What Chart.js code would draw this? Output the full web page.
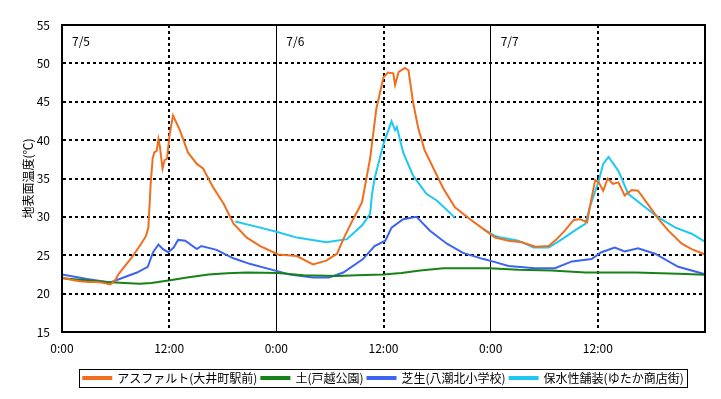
<!DOCTYPE html>
<html lang="ja">
<head>
  <meta charset="UTF-8" />
  <title>地表面温度</title>
  <script src="https://cdn.jsdelivr.net/npm/chart.js"></script>
  <style>
    html, body { margin: 0; padding: 0; background: #fff; }
    #wrap { width: 721px; height: 399px; }
  </style>
</head>
<body>
  <div id="wrap"><canvas id="tempChart" width="721" height="399"></canvas></div>
  <script>
    // hours since 7/5 0:00
    const xTicks = [0, 12, 24, 36, 48, 60, 72];
    const xTickLabels = ["0:00", "12:00", "0:00", "12:00", "0:00", "12:00", ""];
    const dayLabels = ["7/5", "7/6", "7/7"];
    const seriesNames = ["アスファルト(大井町駅前)", "土(戸越公園)", "芝生(八潮北小学校)", "保水性舗装(ゆたか商店街)"];

    const asphaltHours = [0, 1, 2, 3, 4, 4.6, 5.4, 6, 6.3, 6.9, 7.8, 8.7, 9.4, 9.67, 9.93, 10.15, 10.33, 10.6, 10.8, 10.97, 11.26, 11.5, 11.76, 12.06, 12.43, 13.2, 14.1, 15.1, 15.8, 16.9, 18.1, 19.2, 20.7, 22.2, 24.2, 26.3, 28.1, 29.6, 30.8, 31.5, 32.6, 33.6, 34.5, 35.2, 36.0, 36.5, 37.1, 37.3, 37.7, 38.4, 38.8, 39.3, 39.9, 40.6, 41.6, 42.7, 44.0, 45.7, 47.2, 48.5, 50.0, 51.5, 53.0, 54.5, 55.4, 56.3, 57.3, 58.0, 58.8, 59.1, 59.7, 60.1, 60.6, 61.1, 61.7, 62.3, 63.0, 63.8, 64.5, 65.7, 66.8, 67.9, 69.4, 70.5, 71.8, 72];
    const asphaltTemps = [22.1, 21.8, 21.6, 21.5, 21.5, 21.4, 21.2, 21.8, 22.5, 23.4, 24.7, 26.2, 27.5, 28.6, 34.3, 37.6, 38.4, 38.6, 40.1, 39.1, 36.3, 37.4, 37.6, 40.8, 43.2, 41.3, 38.4, 36.9, 36.3, 33.9, 31.7, 29.1, 27.3, 26.2, 25.1, 24.9, 23.8, 24.3, 25.2, 27.1, 29.7, 31.9, 37.6, 44.1, 48.2, 48.8, 48.7, 47.2, 48.9, 49.4, 49.1, 45.0, 41.5, 38.7, 36.3, 33.7, 31.25, 29.7, 28.4, 27.3, 26.9, 26.7, 26.1, 26.2, 27.1, 28.2, 29.6, 29.7, 29.3, 31.25, 34.8, 34.5, 33.4, 35.0, 34.3, 34.5, 32.8, 33.5, 33.4, 31.5, 29.7, 28.2, 26.5, 25.8, 25.2, 25.1];

    const soilHours = [0, 2, 4, 5, 7, 8.7, 10, 12.1, 14, 16.4, 18.5, 20.7, 24.2, 27, 30.8, 33, 36, 38, 40.1, 42.7, 45, 47.9, 51.1, 54.8, 58.6, 64.2, 69, 72];
    const soilTemps = [22.0, 21.8, 21.6, 21.5, 21.4, 21.3, 21.4, 21.75, 22.1, 22.5, 22.65, 22.75, 22.7, 22.4, 22.3, 22.4, 22.5, 22.7, 23.0, 23.3, 23.3, 23.3, 23.1, 23.0, 22.75, 22.75, 22.6, 22.45];

    const turfHours = [0, 2.8, 5.4, 6.9, 8.4, 9.6, 10.2, 10.8, 11.3, 11.9, 12.5, 13.0, 13.8, 15.1, 15.6, 17.3, 19.2, 21.1, 24.2, 25.5, 28.1, 29.9, 31.5, 33.7, 35.0, 36.2, 36.9, 38.2, 39.7, 41.2, 43.1, 44.9, 47.2, 48.5, 50.0, 53.0, 55.2, 57.1, 59.3, 60.4, 61.9, 63.0, 64.5, 66.4, 69.0, 71.8, 72];
    const turfTemps = [22.5, 21.9, 21.45, 22.1, 22.75, 23.5, 25.4, 26.4, 25.8, 25.4, 26.0, 27.0, 26.9, 25.8, 26.2, 25.7, 24.6, 23.85, 22.9, 22.5, 22.1, 22.1, 22.75, 24.5, 26.2, 26.9, 28.6, 29.7, 30.0, 28.2, 26.5, 25.3, 24.5, 24.1, 23.6, 23.3, 23.3, 24.2, 24.5, 25.4, 26.0, 25.5, 25.9, 25.2, 23.5, 22.6, 22.5];

    const pavingHours = [19.4, 22.2, 24.2, 26.3, 29.6, 31.9, 33.6, 34.5, 34.7, 35.0, 36.0, 36.9, 37.3, 37.5, 38.2, 39.3, 40.8, 42.0, 44.0, 45.5, 47.2, 48.5, 49.2, 51.1, 52.8, 54.5, 56.0, 57.4, 58.6, 59.1, 60.1, 60.6, 61.2, 62.3, 63.4, 65.3, 66.8, 68.7, 70.5, 71.8, 72];
    const pavingTemps = [29.4, 28.6, 28.0, 27.3, 26.7, 27.1, 28.9, 30.4, 32.8, 35.0, 39.5, 42.45, 41.3, 41.7, 38.4, 35.4, 33.0, 32.1, 29.9, null, 28.4, 27.5, 27.3, 26.9, 26.0, 26.0, 27.1, 28.2, 29.1, 31.25, 34.7, 36.9, 37.8, 36.0, 33.0, 31.25, 29.9, 28.6, 27.8, 26.9, 26.8];

    const colors = ["#f06e1e", "#178217", "#3c64f0", "#1ec8f0"];
    const FONT = "'Noto Sans CJK JP', 'Noto Sans', sans-serif";

    function pts(hours, temps) {
      return hours.map((h, i) => ({ x: h, y: temps[i] }));
    }

    const lists = [[asphaltHours, asphaltTemps], [soilHours, soilTemps], [turfHours, turfTemps], [pavingHours, pavingTemps]];
    const datasets = lists.map((l, i) => ({
      label: seriesNames[i],
      data: pts(l[0], l[1]),
      borderColor: colors[i],
      backgroundColor: colors[i],
      borderWidth: 2,
      pointRadius: 0,
      tension: 0,
      spanGaps: false
    }));

    // frame round the plot, legend frame and day labels
    const decor = {
      id: "decor",
      afterDraw(chart) {
        const ctx = chart.ctx;
        const a = chart.chartArea;
        const x = chart.scales.x;
        ctx.save();
        ctx.strokeStyle = "#000";
        ctx.lineWidth = 2;
        ctx.strokeRect(a.left, a.top, a.right - a.left, a.bottom - a.top);

        ctx.fillStyle = "#000";
        ctx.font = "12px " + FONT;
        ctx.textBaseline = "middle";
        dayLabels.forEach((d, i) => {
          ctx.fillText(d, x.getPixelForValue(i * 24) + 10, a.top + 16);
        });

        const boxes = chart.legend.legendHitBoxes;
        if (boxes.length) {
          const l = Math.min(...boxes.map(b => b.left)) - 4;
          const r = Math.max(...boxes.map(b => b.left + b.width)) + 4;
          const t = Math.min(...boxes.map(b => b.top)) - 3;
          const btm = Math.max(...boxes.map(b => b.top + b.height)) + 3;
          ctx.lineWidth = 1;
          ctx.strokeRect(Math.round(l) + 0.5, Math.round(t) + 0.5, Math.round(r - l), Math.round(btm - t));
        }
        ctx.restore();
      }
    };

    new Chart(document.getElementById("tempChart"), {
      type: "line",
      data: { datasets },
      options: {
        responsive: false,
        animation: false,
        events: [],
        layout: { padding: { top: 25, right: 16, left: 0, bottom: 5 } },
        plugins: {
          tooltip: { enabled: false },
          legend: {
            position: "bottom",
            fullSize: false,
            labels: {
              color: "#000",
              font: { family: FONT, size: 12 },
              boxWidth: 28,
              boxHeight: 2,
              padding: 4
            }
          }
        },
        scales: {
          x: {
            type: "linear",
            min: 0,
            max: 72,
            afterBuildTicks: s => { s.ticks = xTicks.map(v => ({ value: v })); },
            afterFit: s => { s.height = 36; },
            ticks: {
              color: "#000",
              font: { family: FONT, size: 12 },
              padding: 9,
              maxRotation: 0,
              autoSkip: false,
              callback: (v, i) => xTickLabels[xTicks.indexOf(v)]
            },
            grid: {
              drawTicks: false,
              color: "#000",
              lineWidth: c => (c.tick && c.tick.value % 24 === 0) ? 1 : 2
            },
            border: {
              color: "#000",
              width: 2,
              dash: c => (c.tick && c.tick.value % 24 !== 0) ? [3, 3] : []
            }
          },
          y: {
            min: 15,
            max: 55,
            afterFit: s => { s.width = 62; },
            ticks: {
              stepSize: 5,
              color: "#000",
              font: { family: FONT, size: 12 },
              padding: 12
            },
            title: {
              display: true,
              text: "地表面温度(℃)",
              color: "#000",
              font: { family: FONT, size: 12 },
              padding: { top: 21, bottom: 0 }
            },
            grid: {
              drawTicks: false,
              color: "#000",
              lineWidth: 2
            },
            border: {
              color: "#000",
              width: 2,
              dash: c => c.tick ? [3, 3] : []
            }
          }
        }
      },
      plugins: [decor]
    });
  </script>
</body>
</html>
